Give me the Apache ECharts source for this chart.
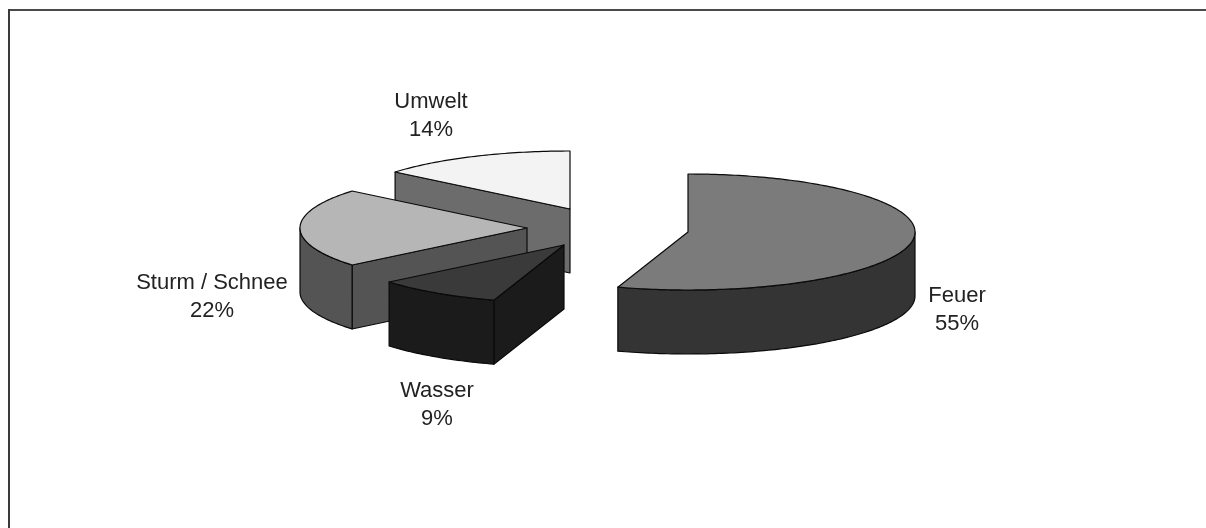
<!DOCTYPE html>
<html>
<head>
<meta charset="utf-8">
<style>html,body{margin:0;padding:0;background:#fff}#chart{width:1206px;height:528px}</style>
<script src="https://cdn.jsdelivr.net/npm/echarts@6/dist/echarts.min.js"></script>
</head>
<body>
<div id="chart"></div>
<script>
// Loss shares by cause
const categories = ['Feuer', 'Wasser', 'Sturm / Schnee', 'Umwelt'];
const shares = [55, 9, 22, 14];

// Tilted-disc geometry: apex of each exploded wedge, fill tones and label anchors
const RX = 227, RY = 58, DEPTH = 64;
const apexes = [[688, 232], [564, 245], [527, 228], [570, 209]];
const topTones = ['#7b7b7b', '#3a3a3a', '#b6b6b6', '#f3f3f3'];
const wallTones = ['#343434', '#1b1b1b', '#545454', '#6c6c6c'];
const paintOrder = [4, 3, 2, 1];
const labelAnchors = [[957, 310], [437, 405], [212, 297], [431, 116]];

const total = shares.reduce((a, b) => a + b, 0);
const startAngles = [];
shares.reduce((acc, v, i) => { startAngles[i] = acc; return acc + v / total * 360; }, 0);

function rim(c, deg, drop) {
  const r = deg * Math.PI / 180;
  return [c[0] + RX * Math.sin(r), c[1] - RY * Math.cos(r) + drop];
}
function arc(c, from, to, drop) {
  const pts = [];
  const n = Math.max(2, Math.ceil(Math.abs(to - from)));
  for (let i = 0; i <= n; i++) pts.push(rim(c, from + (to - from) * i / n, drop));
  return pts;
}

function renderWedge(params, api) {
  const i = params.dataIndex;
  const value = api.value(1);
  const a0 = startAngles[i];
  const a1 = a0 + value / total * 360;
  const c = apexes[i];
  const order = paintOrder[i] * 10;
  const lineStyle = { stroke: '#0a0a0a', lineWidth: 1.2, lineJoin: 'round' };
  const poly = (points, fill, z) => ({
    type: 'polygon', z2: order + z,
    shape: { points }, style: Object.assign({ fill }, lineStyle)
  });
  const children = [];

  // Cut faces turned towards the viewer
  const cutFace = deg => {
    const p = rim(c, deg, 0);
    return poly([c, p, [p[0], p[1] + DEPTH], [c[0], c[1] + DEPTH]], wallTones[i], 1);
  };
  if (Math.sin(a0 * Math.PI / 180) < -1e-6) children.push(cutFace(a0));
  if (Math.sin(a1 * Math.PI / 180) > 1e-6) children.push(cutFace(a1));

  // Outer wall: only the front half of the disc is visible
  const from = Math.max(a0, 90), to = Math.min(a1, 270);
  if (to > from) {
    children.push(poly(arc(c, from, to, 0).concat(arc(c, to, from, DEPTH)), wallTones[i], 2));
  }

  // Top surface
  children.push(poly([c].concat(arc(c, a0, a1, 0)), topTones[i], 3));

  // Two-line label: name and share
  children.push({
    type: 'text', z2: 100,
    style: {
      x: labelAnchors[i][0], y: labelAnchors[i][1],
      text: api.value(0) + '\n' + value + '%',
      fill: '#222222', font: '22px "Liberation Sans", Arial, sans-serif',
      lineHeight: 28, align: 'center', verticalAlign: 'middle'
    }
  });
  return { type: 'group', children };
}

const chart = echarts.init(document.getElementById('chart'), null, { renderer: 'canvas' });
chart.setOption({
  animation: false,
  backgroundColor: '#ffffff',
  graphic: [
    { type: 'line', shape: { x1: 8, y1: 10, x2: 1206, y2: 10 }, style: { stroke: '#4a4a4a', lineWidth: 2 } },
    { type: 'line', shape: { x1: 9, y1: 9, x2: 9, y2: 528 }, style: { stroke: '#3a3a3a', lineWidth: 2 } }
  ],
  series: [{
    type: 'custom',
    coordinateSystem: 'none',
    renderItem: renderWedge,
    encode: { itemName: 0, value: 1 },
    data: categories.map((name, i) => [name, shares[i]])
  }]
});
</script>
</body>
</html>
